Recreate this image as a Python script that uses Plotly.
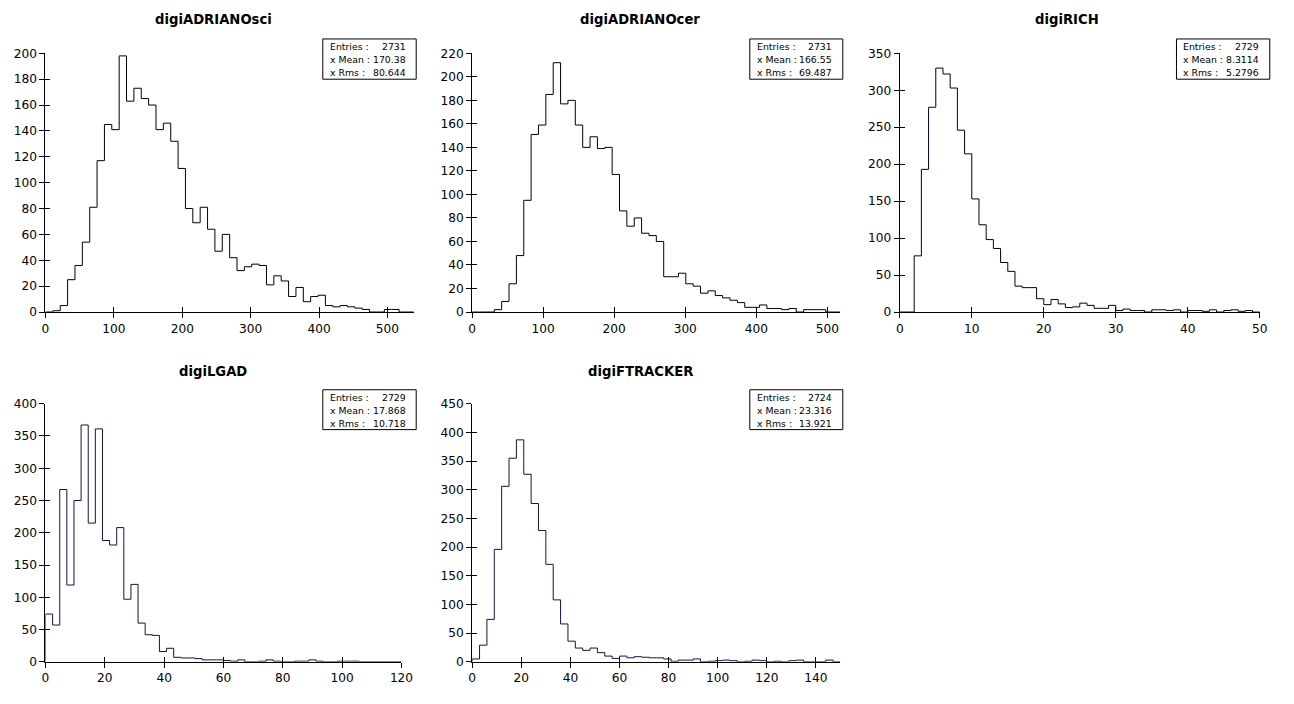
import numpy as np
import plotly.graph_objects as go

# page is 1294x704; the html body has an 8px margin, so the figure is 16px smaller
PAGE_W, PAGE_H = 1294, 704
BODY_MARGIN = 8
W, H = PAGE_W - 2 * BODY_MARGIN, PAGE_H - 2 * BODY_MARGIN
# measured page -> picture mapping of the photographing step
SHOT_SX, SHOT_OX = 0.9875, 3.6
SHOT_SY, SHOT_OY = 0.983, 6.4
FONT_K = 1 / 0.985

# ---------------- data ----------------
TITLES = ["digiADRIANOsci", "digiADRIANOcer", "digiRICH", "digiLGAD", "digiFTRACKER"]

# histogram ranges (50 bins each)
X_MIN = [0, 0, 0, 0, 0]
X_MAX = [538.6, 518.6, 50, 120, 150]
N_BINS = 50

SCI_COUNTS = [0, 1, 5, 25, 36, 54, 81, 117, 145, 141, 198, 163, 173, 165, 160, 141, 146, 132, 111, 80,
              69, 81, 64, 47, 60, 42, 32, 35, 37, 36, 21, 28, 24, 12, 19, 8, 12, 13, 5, 4,
              5, 4, 3, 2, 0, 0, 2, 2, 0, 0]
CER_COUNTS = [0, 0, 0, 2, 9, 24, 48, 95, 151, 159, 185, 212, 177, 180, 159, 140, 149, 139, 140, 117,
              86, 73, 80, 67, 65, 60, 30, 30, 33, 24, 22, 16, 18, 14, 12, 10, 8, 4, 4, 6,
              3, 3, 2, 3, 0, 2, 2, 2, 0, 0]
RICH_COUNTS = [0, 0, 76, 193, 277, 330, 322, 303, 246, 214, 153, 118, 98, 86, 67, 55, 35, 33, 33, 18,
               10, 17, 11, 6, 7, 12, 9, 5, 5, 9, 2, 4, 2, 2, 0, 3, 3, 2, 3, 0,
               2, 2, 1, 3, 0, 2, 3, 1, 2, 0]
LGAD_COUNTS = [74, 57, 267, 119, 250, 367, 215, 361, 188, 181, 208, 97, 120, 60, 42, 41, 16, 21, 7, 6,
               6, 5, 3, 3, 3, 2, 1, 3, 0, 0, 1, 3, 1, 0, 0, 1, 1, 3, 1, 0,
               0, 1, 1, 1, 0, 0, 0, 0, 0, 0]
FTRK_COUNTS = [5, 29, 74, 196, 306, 355, 387, 327, 276, 229, 170, 108, 66, 36, 24, 20, 24, 16, 10, 6,
               10, 7, 9, 8, 7, 7, 5, 1, 3, 3, 5, 0, 1, 2, 3, 2, 0, 1, 3, 2,
               0, 1, 0, 2, 3, 0, 0, 0, 3, 0]
COUNTS = [SCI_COUNTS, CER_COUNTS, RICH_COUNTS, LGAD_COUNTS, FTRK_COUNTS]

Y_MAX = [200, 220, 350, 400, 450]
X_TICKS = [[0, 100, 200, 300, 400, 500],
           [0, 100, 200, 300, 400, 500],
           [0, 10, 20, 30, 40, 50],
           [0, 20, 40, 60, 80, 100, 120],
           [0, 20, 40, 60, 80, 100, 120, 140]]
Y_TICKS = [list(range(0, 201, 20)),
           list(range(0, 221, 20)),
           list(range(0, 351, 50)),
           list(range(0, 401, 50)),
           list(range(0, 451, 50))]

STAT_LABELS = ["Entries :", "x Mean :", "x Rms :"]
STAT_VALUES = [["2731", "170.38", "80.644"],
               ["2731", "166.55", "69.487"],
               ["2729", "8.3114", "5.2796"],
               ["2729", "17.868", "10.718"],
               ["2724", "23.316", "13.921"]]

LINE_COLORS = ["#000008", "#000010", "#00001a", "#121250", "#121250"]

# ---------------- layout geometry (picture pixels) ----------------
XDOM_PX = [(45, 413.3), (471.7, 840), (899.3, 1259.3), (45, 401), (471.7, 840)]
YDOM_PX = [(312.3, 52.7), (312.3, 52.7), (312.3, 52.7), (663.3, 404.3), (663.3, 404.3)]
TITLE_POS = [(213, 18.5), (640, 18.5), (1067, 18.5), (213, 371.5), (640, 371.5)]
BOX_PX = [(322.3, 38.3, 415.7, 78.7), (749.3, 38.3, 842.3, 78.7), (1176, 38.3, 1269.3, 78.7),
          (322.3, 390.3, 415.7, 430.3), (749.3, 390.3, 842.3, 430.3)]


def px_x(v):
    page = (v - SHOT_OX) / SHOT_SX
    return (page - BODY_MARGIN) / W


def px_y(v):
    page = (v - SHOT_OY) / SHOT_SY
    return 1 - (page - BODY_MARGIN) / H


FONT = "DejaVu Sans"
TICK_SIZE = 12 * FONT_K
TITLE_SIZE = 13 * FONT_K
STAT_SIZE = 9.2 * FONT_K

fig = go.Figure()
layout = dict(
    width=W, height=H,
    margin=dict(l=0, r=0, t=0, b=0),
    paper_bgcolor="white", plot_bgcolor="white",
    showlegend=False,
    font=dict(family=FONT, size=TICK_SIZE, color="black"),
)
annotations = []
shapes = []

for i in range(5):
    n = i + 1
    ov = i + 6
    edges = np.linspace(X_MIN[i], X_MAX[i], N_BINS + 1)
    counts = list(COUNTS[i])
    xs = [edges[0]] + list(edges)
    ys = [0] + counts + [0]
    xname = "x" if n == 1 else f"x{n}"
    yname = "y" if n == 1 else f"y{n}"
    fig.add_trace(go.Scatter(x=xs, y=ys, mode="lines", line=dict(shape="hv", color=LINE_COLORS[i], width=1),
                             xaxis=xname, yaxis=yname, hoverinfo="skip"))
    # dummy trace for overlay axes (inside half of crossing ticks)
    fig.add_trace(go.Scatter(x=[X_MIN[i]], y=[0], mode="markers", marker=dict(opacity=0),
                             xaxis=f"x{ov}", yaxis=f"y{ov}", hoverinfo="skip"))
    xd = [px_x(XDOM_PX[i][0]), px_x(XDOM_PX[i][1])]
    yd = [px_y(YDOM_PX[i][0]), px_y(YDOM_PX[i][1])]
    common = dict(showgrid=False, zeroline=False, ticklen=5, tickwidth=1, tickcolor="black",
                  tickfont=dict(family=FONT, size=TICK_SIZE, color="black"))
    layout[f"xaxis{n}"] = dict(domain=xd, anchor=yname, range=[X_MIN[i], X_MAX[i]],
                               tickmode="array", tickvals=X_TICKS[i], ticks="outside",
                               showline=True, linecolor="black", linewidth=1, **common)
    layout[f"yaxis{n}"] = dict(domain=yd, anchor=xname, range=[0, Y_MAX[i]],
                               tickmode="array", tickvals=Y_TICKS[i], ticks="outside",
                               showline=True, linecolor="black", linewidth=1, **common)
    layout[f"xaxis{ov}"] = dict(overlaying=xname, anchor=f"y{ov}", range=[X_MIN[i], X_MAX[i]],
                                tickmode="array", tickvals=X_TICKS[i], ticks="inside",
                                showticklabels=False, showline=False, **common)
    layout[f"yaxis{ov}"] = dict(overlaying=yname, anchor=f"x{ov}", range=[0, Y_MAX[i]],
                                tickmode="array", tickvals=Y_TICKS[i], ticks="inside",
                                showticklabels=False, showline=False, **common)

    # title
    tx, ty = TITLE_POS[i]
    annotations.append(dict(text=f"<b>{TITLES[i]}</b>", x=px_x(tx), y=px_y(ty), xref="paper", yref="paper",
                            xanchor="center", yanchor="middle", showarrow=False,
                            font=dict(family=FONT, size=TITLE_SIZE, color="black")))
    # stats box
    x0, y0, x1, y1 = BOX_PX[i]
    shapes.append(dict(type="rect", xref="paper", yref="paper", x0=px_x(x0), x1=px_x(x1),
                       y0=px_y(y1), y1=px_y(y0), line=dict(color="black", width=1), fillcolor="white"))
    for k in range(3):
        ly = y0 + 7.4 + 13 * k
        annotations.append(dict(text=STAT_LABELS[k], x=px_x(x0 + 5), y=px_y(ly), xref="paper", yref="paper",
                                xanchor="left", yanchor="middle", showarrow=False,
                                font=dict(family=FONT, size=STAT_SIZE, color="black")))
        annotations.append(dict(text=STAT_VALUES[i][k], x=px_x(x1 - 8.5), y=px_y(ly), xref="paper", yref="paper",
                                xanchor="right", yanchor="middle", showarrow=False,
                                font=dict(family=FONT, size=STAT_SIZE, color="black")))

layout["annotations"] = annotations
layout["shapes"] = shapes
fig.update_layout(**layout)
fig.write_html("out.html", config={"displayModeBar": False})
